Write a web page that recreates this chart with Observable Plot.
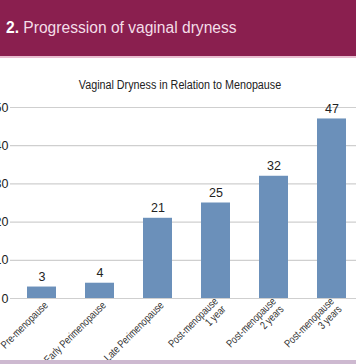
<!DOCTYPE html>
<html><head><meta charset="utf-8">
<script src="https://cdn.jsdelivr.net/npm/d3@7"></script>
<script src="https://cdn.jsdelivr.net/npm/@observablehq/plot@0.6"></script>
<style>
html,body{margin:0;padding:0;width:356px;height:364px;overflow:hidden;background:#fff;position:relative;}
#hdr{position:absolute;top:0;left:0;width:350px;height:56px;background:#8a1f4f;border-bottom:2px solid #e9bdd0;color:#f4dde8;font-family:"Liberation Sans",Arial,sans-serif;font-size:15.6px;line-height:56px;padding-left:6px;white-space:nowrap;}
#hdr b{color:#fff;font-weight:bold;}
#title{position:absolute;top:78px;left:0;width:360px;text-align:center;font-family:"Liberation Sans",Arial,sans-serif;font-size:12.5px;color:#222;white-space:nowrap;transform:scaleX(0.86);transform-origin:180px 0;}
#chart{position:absolute;top:95px;left:-30px;}
#chart svg{overflow:visible;max-width:none;}
#foot{position:absolute;top:360px;left:0;width:356px;height:4px;background:#cdb9d0;}
</style>
</head><body>
<div id="hdr"><b>2.</b> Progression of vaginal dryness</div>
<div id="title">Vaginal Dryness in Relation to Menopause</div>
<div id="chart"></div>
<div id="foot"></div>
<script>
const categories = ["Pre-menopause", "Early Perimenopause", "Late Perimenopause", "Post-menopause\n1 year", "Post-menopause\n2 years", "Post-menopause\n3 years"];
const values = [3, 4, 21, 25, 32, 47];
const yTicks = [0, 10, 20, 30, 40, 50];

const data = categories.map((c, i) => ({category: c, value: values[i]}));
const font = '"Liberation Sans",Arial,sans-serif';

const chart = Plot.plot({
  width: 400,
  height: 265,
  marginLeft: 40,
  marginRight: 7,
  marginTop: 12,
  marginBottom: 62,
  style: {fontFamily: font, color: "#333", background: "transparent", overflow: "visible", maxWidth: "none"},
  x: {domain: categories, paddingInner: 0.5, paddingOuter: 0.25, label: null},
  y: {domain: [0, 50], label: null},
  marks: [
    Plot.ruleY(yTicks, {stroke: "#cfcfcf", strokeWidth: 1.2}),
    Plot.barY(data, {x: "category", y: "value", fill: "#6b90ba"}),
    Plot.text(data, {x: "category", y: "value", text: d => String(d.value), dy: -6, lineAnchor: "bottom", fontSize: 12.5, fill: "#222"}),
    Plot.axisY({ticks: yTicks, tickSize: 0, tickPadding: 2, fontSize: 12.5, fill: "#222"}),
    Plot.axisX({tickSize: 0, tickPadding: 5, dx: 4, tickRotate: -45, fontSize: 11, fill: "#333"})
  ]
});
// condense the rotated x tick labels (the reference uses a condensed face)
chart.querySelectorAll('g[aria-label="x-axis tick label"] text').forEach(t => {
  const tr = t.getAttribute("transform") || "";
  t.setAttribute("transform", tr + " scale(0.78,1)");
});
document.getElementById("chart").appendChild(chart);
</script>
</body></html>
